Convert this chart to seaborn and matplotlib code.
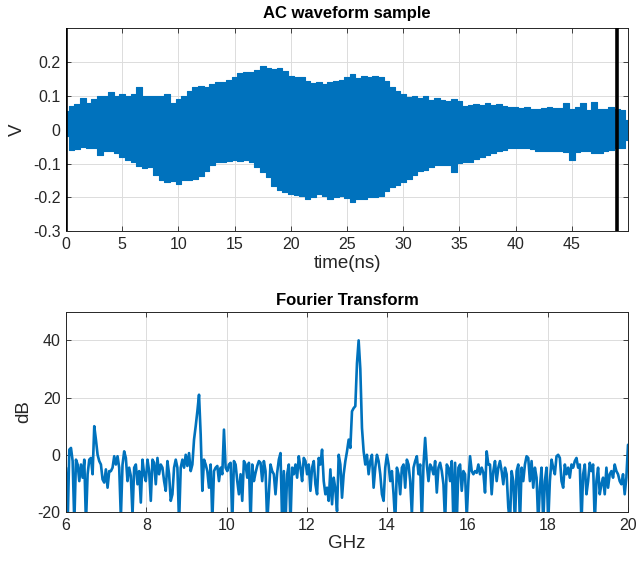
import numpy as np
import matplotlib
matplotlib.use("Agg")
import matplotlib.pyplot as plt
import seaborn as sns
from matplotlib.ticker import FuncFormatter

sns.set_style("ticks")
plt.rcParams['font.family'] = ['Liberation Sans', 'DejaVu Sans']
plt.rcParams['axes.unicode_minus'] = False

# waveform envelope, every 0.5 ns from 0 to 50 ns
wave_upper = [0.055, 0.07, 0.075, 0.095, 0.08, 0.09, 0.10, 0.10, 0.11, 0.10,
              0.105, 0.10, 0.105, 0.125, 0.10, 0.10, 0.10, 0.10, 0.105, 0.08,
              0.09, 0.10, 0.115, 0.125, 0.128, 0.125, 0.135, 0.14, 0.14, 0.148,
              0.155, 0.168, 0.172, 0.17, 0.177, 0.187, 0.182, 0.18, 0.182, 0.175,
              0.158, 0.155, 0.157, 0.143, 0.138, 0.14, 0.135, 0.14, 0.145, 0.148,
              0.155, 0.165, 0.153, 0.16, 0.157, 0.16, 0.155, 0.143, 0.125, 0.115,
              0.105, 0.098, 0.10, 0.094, 0.10, 0.089, 0.095, 0.088, 0.086, 0.09,
              0.084, 0.07, 0.072, 0.075, 0.074, 0.078, 0.074, 0.075, 0.07, 0.066,
              0.068, 0.065, 0.068, 0.06, 0.06, 0.065, 0.066, 0.064, 0.063, 0.078,
              0.06, 0.066, 0.08, 0.058, 0.082, 0.06, 0.06, 0.066, 0.06, 0.058,
              0.03]
wave_lower = [-0.02, -0.06, -0.056, -0.052, -0.055, -0.055, -0.074, -0.062, -0.064, -0.07,
              -0.08, -0.089, -0.095, -0.108, -0.113, -0.11, -0.133, -0.148, -0.155, -0.151,
              -0.16, -0.15, -0.148, -0.145, -0.138, -0.123, -0.105, -0.095, -0.094, -0.092,
              -0.089, -0.092, -0.09, -0.095, -0.11, -0.125, -0.14, -0.165, -0.177, -0.185,
              -0.19, -0.192, -0.195, -0.205, -0.20, -0.19, -0.195, -0.205, -0.20, -0.197,
              -0.202, -0.215, -0.205, -0.205, -0.20, -0.198, -0.195, -0.182, -0.17, -0.162,
              -0.155, -0.145, -0.133, -0.123, -0.12, -0.111, -0.105, -0.103, -0.105, -0.125,
              -0.098, -0.096, -0.094, -0.088, -0.082, -0.074, -0.07, -0.064, -0.06, -0.055,
              -0.055, -0.054, -0.055, -0.058, -0.062, -0.063, -0.062, -0.063, -0.064, -0.065,
              -0.09, -0.066, -0.063, -0.064, -0.068, -0.07, -0.063, -0.06, -0.055, -0.053,
              -0.03]
wave_time = np.linspace(0, 50, len(wave_upper))
marker_times = [0, 49]

# spectrum in dB, 6 to 20 GHz
spec_db = [
    -4.5, -24, 1.8, 2.4, -2.2, -24, -1.7, -3.4, -9.2, -3.4, -8, -1.7, -24, -6.8, -1.7, -1.1,
    -6.8, 10, 5.3, 0, -2.2, -3.4, -8.6, -9.7, -5.1, -11.5, -5.7, -5.7, -4.5, -0.5, -3.4, -0.5,
    -4.5, -22, -3.4, 1.2, -1.1, -9.2, -4.5, -7.4, -21, -4.5, -3.4, -10.3, -5.7, -16.7, -1.7, -6.8,
    -9.2, -1.7, -5.7, -16.1, -1.7, -2.8, -10.3, -1.1, -6.8, -3.4, -4.5, -9.2, -12.6, -2.2, -6.8, -16.1,
    -13.8, -4.5, -1.7, -4.5,
    -24, -4.5, -1.7, -4.5, 0, -3.9, 0.6, -5.7, -3.4, 5.3, 10, 15.2, 21, 7.1, -12.6, -1.7,
    -3.4, -5.7, -11.5, -3.4, -23, -5.7, -4.5, -3.9, -9.2, -4.5, -6.8, 8.8, -4.5, -5.7, -3.4, -2.8,
    -24, -2.2, -3.4, -9.2, -13.8, -6.8, -16.1, -2.2, -3.4, -8, -2.8, -24, -3.4, -9.2, -6.3, -3.9,
    -2.2, -2.8, -9.2, -2.2, -5.7, -24, -13.8, -3.4, -5.7, -6.8, -13.8, -6.3, -1.7, 0.6, -24, -5.7,
    -24, -6.8, -3.4,
    -24, -4.5, -6.8, -3.4, -8, -0.5, -4.5, -9.2, -1.1, -2.2, -6.8, -3.4, -12.6, -4.5, -2.2, -10.3,
    -13.8, -1.1, -3.4, 1.8, -9.2, -13.8, -11.5, -16.1, -5.1, -17.3, -8, -12, -19.7, 0, -3.4, -15,
    -6.8, -2.2, 1.2, 5.3, 2.4, 15.2, 16.3, 17, 32, 40, 30, 9.4, 1.2, -3.4, 0, -6.8,
    -2.2, 0, -11.5, -4.5, 0, -2.2, -6.8, -13.8, -16.1, -4.5, 0, -3.4, -9.2, -5.7, -13.8, -24,
    -4.5, -6.8, -13.8, -4.5, -3.4,
    -11.5, -1.7, -3.4, -9.2, -21, -4.5, -2.2, -0.5, -6.8, -3.4, -24, -3.4, 5.9, -3.4, -9.2, -3.4,
    -4.5, -6.8, -2.2, -13.2, -4.5, -2.8, -5.7, -10.3, -24, -3.4, -4.5, -9.2, -2.2, -24, -2.8, -24,
    -4.5, -3.4, -12.6, -5.7, -6.8, -22, -9.2, -0.5, -5.7, -6.8, -5.7, -6.3, -3.4, -6.8, -4.5, -6.3,
    -13.2, 1.2, -3.4, -3.4, -13.8, -5.7, -2.2, -9.2, -4.5, -2.2, -5.7, -10.3, -4.5, -6.8, -18.4, -24,
    -5.7, -9.2, -24, -5.7, -3.4,
    -24, -4.5, -9.2, -3.4, -0.5, -1.1, -9.2, -2.2, -11.5, -4.5, -8, -24, -11.5, -4.5, -24, -9.2,
    -4.5, -24, -9.2, -1.7, -4.5, -6.8, -0.5, 0, -1.1, -9.2, -11.5, -3.4, -6.8, -4.5, -8, -3.4,
    -4.5, -2.2, -1.1, -4.5, -3.4, -24, -6.8, -3.4, -13.8, -9.2, -2.8, -5.7, -3.4, -24, -9.2, -4.5,
    -13.8, -10.3, -8, -13.8, -4.5, -11.5, -6.8, -5.7, -8, -3.4, -5.7, -6.8, -9.2, -10.3, -6.8, -13.8,
    -8, 3.5,
]
spec_ghz = np.linspace(6, 20, len(spec_db))

blue = '#0072BD'
txt = '#262626'


def style_axes(ax):
    ax.grid(True, color='#dcdcdc', lw=0.7)
    ax.set_axisbelow(True)
    for s in ax.spines.values():
        s.set_color(txt)
        s.set_linewidth(0.7)
    ax.tick_params(direction='in', top=True, right=True, length=3.5, width=0.6,
                   colors=txt, labelsize=11.5, pad=4)
    ax.yaxis.set_major_formatter(FuncFormatter(lambda v, p: f'{v:g}'))


fig = plt.figure(figsize=(6.37, 5.64), dpi=100)
ax1 = fig.add_axes([0.1036, 0.590, 0.8823, 0.360])
ax2 = fig.add_axes([0.1036, 0.0922, 0.8823, 0.355])

# top: waveform sample (filled between the read-off peaks)
ax1.fill_between(wave_time, wave_lower, wave_upper, step='mid', color=blue, lw=0.8, edgecolor=blue)
for mt in marker_times:
    ax1.axvline(mt, color='black', lw=2.6, zorder=5)
ax1.set_xlim(0, 50)
ax1.set_ylim(-0.3, 0.3)
ax1.set_xticks(range(0, 50, 5))
ax1.set_yticks([-0.3, -0.2, -0.1, 0, 0.1, 0.2])
style_axes(ax1)
ax1.set_title('AC waveform sample', fontsize=12, fontweight='bold', color='black', pad=7)
ax1.set_xlabel('time(ns)', fontsize=13.5, color=txt, labelpad=2)
ax1.set_ylabel('V', fontsize=13.5, color=txt, labelpad=5)

# bottom: spectrum
sns.lineplot(x=spec_ghz, y=spec_db, ax=ax2, color=blue, lw=1.9)
ax2.set_xlim(6, 20)
ax2.set_ylim(-20, 50)
ax2.set_xticks(range(6, 21, 2))
ax2.set_yticks([-20, 0, 20, 40])
style_axes(ax2)
ax2.set_title('Fourier Transform', fontsize=12, fontweight='bold', color='black', pad=5)
ax2.set_xlabel('GHz', fontsize=13.5, color=txt, labelpad=2)
ax2.set_ylabel('dB', fontsize=13.5, color=txt, labelpad=4)

fig.savefig('out.png', dpi=100)
